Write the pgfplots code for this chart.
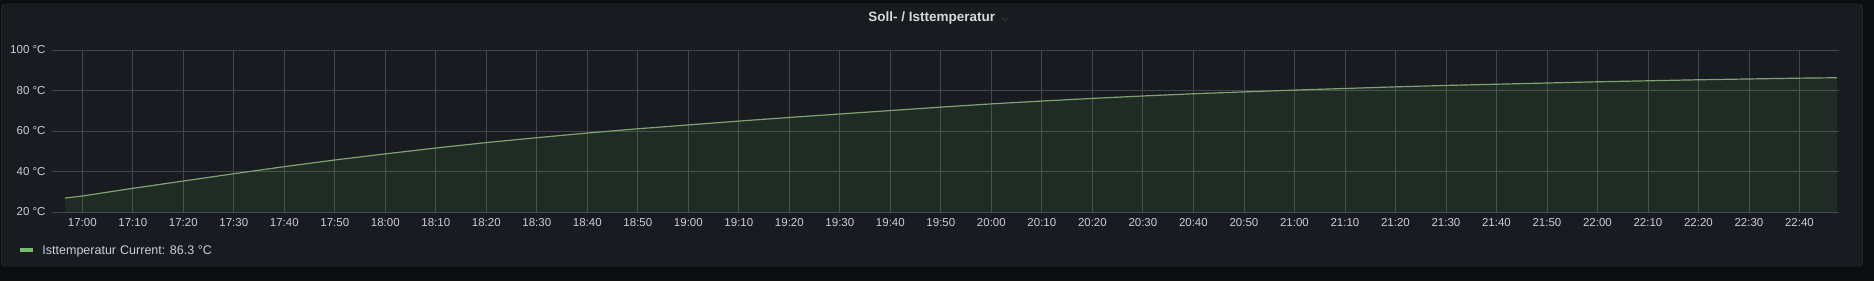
\documentclass[border=0pt]{standalone}
\usepackage{fontspec}
\setmainfont{Liberation Sans}
\usepackage{pgfplots}
\pgfplotsset{compat=1.18}
\definecolor{outerbg}{HTML}{0C0D10}
\definecolor{panelbg}{HTML}{181B1F}
\definecolor{panelborder}{HTML}{22252A}
\definecolor{gridcol}{HTML}{45474C}
\definecolor{ticktext}{HTML}{C7D0D9}
\definecolor{titletext}{HTML}{D8D9DA}
\definecolor{linecol}{HTML}{7EA370}
\definecolor{fillbase}{HTML}{73BF69}
\definecolor{legendbar}{HTML}{73BF69}
\begin{document}
\begin{tikzpicture}[x=1bp,y=1bp]
\path[use as bounding box] (0,0) rectangle (1874,281);
\fill[outerbg] (0,0) rectangle (1874,281);
\filldraw[fill=panelbg, draw=panelborder, line width=0.8bp, rounded corners=3bp] (1.5,15) rectangle (1862.5,277);
\node[text=titletext, font=\fontsize{13.5bp}{16bp}\selectfont\bfseries, inner sep=0pt] at (931.7,262.7) {Soll- / Isttemperatur};
\draw[color=gridcol!70!panelbg, line width=0.8bp] (1002,263) -- (1005,260.5) -- (1008,263);
\begin{axis}[
  at={(52bp,69bp)}, anchor=south west,
  scale only axis, width=1787.3bp, height=162bp,
  xmin=-6, xmax=347.9, ymin=20, ymax=100,
  xtick={0,10,...,340},
  xticklabels={17:00,17:10,17:20,17:30,17:40,17:50,18:00,18:10,18:20,18:30,18:40,18:50,19:00,19:10,19:20,19:30,19:40,19:50,20:00,20:10,20:20,20:30,20:40,20:50,21:00,21:10,21:20,21:30,21:40,21:50,22:00,22:10,22:20,22:30,22:40},
  ytick={20,40,60,80,100},
  yticklabels={20 °C,40 °C,60 °C,80 °C,100 °C},
  grid=major,
  major grid style={color=gridcol, line width=0.8bp},
  axis line style={draw=none},
  major tick length=0pt,
  tick style={draw=none},
  tick label style={font=\fontsize{11.5bp}{13bp}\selectfont, text=ticktext},
  xticklabel style={anchor=north, inner sep=0pt, yshift=-6.3bp},
  yticklabel style={anchor=east, inner sep=0pt, xshift=-6.3bp},
]
\addplot[draw=none, fill=fillbase, fill opacity=0.1] coordinates {
(-3.4,26.9) (0,27.9) (10,31.7) (20,35.3) (30,38.9) (40,42.4) (50,45.7) (60,48.7) (70,51.6) (80,54.3) (90,56.7) (100,59.0) (110,61.1) (120,63.0) (130,64.9) (140,66.7) (150,68.4) (160,70.1) (170,71.8) (180,73.4) (190,74.8) (200,76.1) (210,77.3) (220,78.4) (230,79.3) (240,80.2) (250,81.0) (260,81.8) (270,82.5) (280,83.1) (290,83.7) (300,84.3) (310,84.8) (320,85.3) (330,85.7) (340,86.1) (347.4,86.3)
} \closedcycle;
\addplot[color=linecol, line width=1.2bp] coordinates {
(-3.4,26.9) (0,27.9) (10,31.7) (20,35.3) (30,38.9) (40,42.4) (50,45.7) (60,48.7) (70,51.6) (80,54.3) (90,56.7) (100,59.0) (110,61.1) (120,63.0) (130,64.9) (140,66.7) (150,68.4) (160,70.1) (170,71.8) (180,73.4) (190,74.8) (200,76.1) (210,77.3) (220,78.4) (230,79.3) (240,80.2) (250,81.0) (260,81.8) (270,82.5) (280,83.1) (290,83.7) (300,84.3) (310,84.8) (320,85.3) (330,85.7) (340,86.1) (347.4,86.3)
};
\end{axis}
\fill[legendbar] (20,29.5) rectangle (33.3,33.5);
\node[text=ticktext, font=\fontsize{12.5bp}{15bp}\selectfont, inner sep=0pt, anchor=base west] at (42.3,27) {Isttemperatur};
\node[text=ticktext, font=\fontsize{12.5bp}{15bp}\selectfont, inner sep=0pt, anchor=base west] at (120,27) {Current: 86.3 °C};
\end{tikzpicture}
\end{document}
